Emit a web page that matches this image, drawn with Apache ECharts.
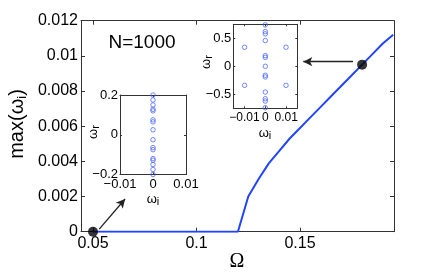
<!DOCTYPE html>
<html><head><meta charset="utf-8">
<script src="https://cdn.jsdelivr.net/npm/echarts@6/dist/echarts.min.js"></script>
<style>html,body{margin:0;padding:0;background:#fff}#c{width:436px;height:273px}</style>
</head><body><div id="c"></div>
<script>
// Main curve: max(omega_i) vs Omega
const omega = [0.05, 0.06, 0.07, 0.08, 0.09, 0.10, 0.11, 0.12, 0.125, 0.13, 0.135, 0.14, 0.145, 0.15, 0.155, 0.16, 0.165, 0.17, 0.175, 0.18, 0.185, 0.19, 0.195];
const maxWi = [0, 0, 0, 0, 0, 0, 0, 0, 0.0020, 0.0030, 0.0039, 0.0046, 0.0053, 0.0059, 0.0065, 0.0071, 0.0077, 0.0083, 0.0089, 0.0095, 0.0101, 0.0107, 0.0112];
// Highlighted points
const dotOmega = [0.05, 0.18];
const dotWi = [0, 0.0095];
// Inset 1 (Omega = 0.05) eigenvalues
const in1Wi = [0, 0, 0, 0, 0, 0, 0, 0, 0, 0, 0, 0, 0, 0, 0, 0];
const in1Wr = [0.2, 0.175, 0.15, 0.128, 0.12, 0.075, 0.065, 0.025, -0.025, -0.065, -0.075, -0.12, -0.128, -0.15, -0.175, -0.2];
// Inset 2 (Omega = 0.18) eigenvalues
const in2Wi = [0, 0, 0, 0, 0, 0, 0, 0, 0, 0, 0, 0, 0, -0.0099, 0.0099, -0.0099, 0.0099];
const in2Wr = [0.74, 0.62, 0.58, 0.46, 0.19, 0.16, 0, -0.16, -0.19, -0.46, -0.58, -0.62, -0.74, 0.34, 0.34, -0.34, -0.34];
// Tick values
const mainXTicks = [0.05, 0.1, 0.15];
const in2XTicks = [-0.01, 0, 0.01];
const in2YTicks = [-0.5, 0, 0.5];

const fmtMinus = v => (v < 0 ? '\u2212' + String(+(-v).toFixed(4)) : String(+v.toFixed(4)));
const AX = '#333';

function axisBase(extra) {
  return Object.assign({
    type: 'value',
    axisLine: { show: true, onZero: false, lineStyle: { color: AX, width: 1 } },
    splitLine: { show: false },
  }, extra);
}

const chart = echarts.init(document.getElementById('c'), null, { renderer: 'canvas' });
const sub = { fontSize: 11, fontFamily: 'Liberation Sans', verticalAlign: 'bottom', lineHeight: 12, color: '#000' };

chart.setOption({
  animation: false,
  backgroundColor: '#fff',
  grid: [
    { left: 81, top: 20.7, right: 42, bottom: 41.3, show: false },
    { left: 120, top: 95, width: 66, height: 79.5, show: true, backgroundColor: '#fff', borderWidth: 0, z: 3 },
    { left: 233.3, top: 24.3, width: 64, height: 84, show: true, backgroundColor: '#fff', borderWidth: 0, z: 3 }
  ],
  xAxis: [
    axisBase({ gridIndex: 0, min: 0.0442, max: 0.1954, position: 'bottom',
      axisTick: { show: true, inside: true, length: 4, customValues: mainXTicks, lineStyle: { color: AX } },
      axisLabel: { show: true, customValues: mainXTicks, margin: 4, fontSize: 16, fontFamily: 'Liberation Sans', color: '#000', formatter: v => String(+v.toFixed(3)) } }),
    axisBase({ gridIndex: 0, min: 0.0442, max: 0.1954, position: 'top',
      axisTick: { show: true, inside: true, length: 4, customValues: mainXTicks, lineStyle: { color: AX } },
      axisLabel: { show: false } }),
    axisBase({ gridIndex: 1, min: -0.01, max: 0.01, interval: 0.01, position: 'bottom', z: 4,
      axisTick: { show: true, inside: true, length: 2, lineStyle: { color: AX } },
      axisLabel: { margin: 3, fontSize: 13, fontFamily: 'Liberation Sans', color: '#000', formatter: fmtMinus } }),
    axisBase({ gridIndex: 1, min: -0.01, max: 0.01, interval: 0.01, position: 'top', z: 4,
      axisTick: { show: true, inside: true, length: 2, lineStyle: { color: AX } },
      axisLabel: { show: false } }),
    axisBase({ gridIndex: 2, min: -0.0153, max: 0.0153, position: 'bottom', z: 4,
      axisTick: { show: true, inside: true, length: 2, customValues: in2XTicks, lineStyle: { color: AX } },
      axisLabel: { customValues: in2XTicks, margin: 3, fontSize: 12, fontFamily: 'Liberation Sans', color: '#000', formatter: fmtMinus } }),
    axisBase({ gridIndex: 2, min: -0.0153, max: 0.0153, position: 'top', z: 4,
      axisTick: { show: true, inside: true, length: 2, customValues: in2XTicks, lineStyle: { color: AX } },
      axisLabel: { show: false } })
  ],
  yAxis: [
    axisBase({ gridIndex: 0, min: 0, max: 0.012, interval: 0.002, position: 'left',
      axisTick: { show: true, inside: true, length: 4, lineStyle: { color: AX } },
      axisLabel: { margin: 3, fontSize: 16, fontFamily: 'Liberation Sans', color: '#000', formatter: v => String(+v.toFixed(4)) } }),
    axisBase({ gridIndex: 0, min: 0, max: 0.012, interval: 0.002, position: 'right',
      axisTick: { show: true, inside: true, length: 4, lineStyle: { color: AX } },
      axisLabel: { show: false } }),
    axisBase({ gridIndex: 1, min: -0.2, max: 0.2, interval: 0.2, position: 'left', z: 4,
      axisTick: { show: true, inside: true, length: 2, lineStyle: { color: AX } },
      axisLabel: { margin: 2, fontSize: 13, fontFamily: 'Liberation Sans', color: '#000', formatter: fmtMinus } }),
    axisBase({ gridIndex: 1, min: -0.2, max: 0.2, interval: 0.2, position: 'right', z: 4,
      axisTick: { show: true, inside: true, length: 2, lineStyle: { color: AX } },
      axisLabel: { show: false } }),
    axisBase({ gridIndex: 2, min: -0.75, max: 0.75, position: 'left', z: 4,
      axisTick: { show: true, inside: true, length: 2, customValues: in2YTicks, lineStyle: { color: AX } },
      axisLabel: { customValues: in2YTicks, margin: 2, fontSize: 13, fontFamily: 'Liberation Sans', color: '#000', formatter: fmtMinus } }),
    axisBase({ gridIndex: 2, min: -0.75, max: 0.75, position: 'right', z: 4,
      axisTick: { show: true, inside: true, length: 2, customValues: in2YTicks, lineStyle: { color: AX } },
      axisLabel: { show: false } })
  ],
  series: [
    {
      type: 'line', xAxisIndex: 0, yAxisIndex: 0, z: 2,
      data: omega.map((o, i) => [o, maxWi[i]]),
      showSymbol: false, smooth: false,
      lineStyle: { color: '#2244ff', width: 2 },
      markLine: {
        silent: true, symbol: ['none', 'arrow'], symbolSize: [7, 9],
        lineStyle: { color: '#222', width: 1.3, type: 'solid' },
        label: { show: false },
        data: [
          [{ coord: [0.053, 0.00015] }, { coord: [0.0655, 0.00186] }],
          [{ coord: [0.1756, 0.00967] }, { coord: [0.1516, 0.00967] }]
        ]
      }
    },
    {
      type: 'scatter', xAxisIndex: 0, yAxisIndex: 0, z: 5, clip: false,
      data: dotOmega.map((o, i) => [o, dotWi[i]]),
      symbolSize: 10, itemStyle: { color: '#000' }
    },
    {
      type: 'scatter', xAxisIndex: 2, yAxisIndex: 2, z: 5,
      data: in1Wi.map((x, i) => [x, in1Wr[i]]),
      symbol: 'circle', symbolSize: 4.5,
      itemStyle: { color: 'rgba(0,0,0,0)', borderColor: '#3d5cff', borderWidth: 0.9 }
    },
    {
      type: 'scatter', xAxisIndex: 4, yAxisIndex: 4, z: 5,
      data: in2Wi.map((x, i) => [x, in2Wr[i]]),
      symbol: 'circle', symbolSize: 4.5,
      itemStyle: { color: 'rgba(0,0,0,0)', borderColor: '#3d5cff', borderWidth: 0.9 }
    }
  ],
  graphic: [
    { type: 'text', x: 142, y: 43, z: 10, style: { text: 'N=1000', fontSize: 19, fontFamily: 'Liberation Sans', fill: '#000', align: 'center', verticalAlign: 'middle' } },
    { type: 'text', x: 237, y: 262, z: 10, style: { text: '\u03A9', fontSize: 20, fontFamily: 'Liberation Serif', fill: '#000', align: 'center', verticalAlign: 'middle' } },
    { type: 'text', x: 17, y: 124, rotation: Math.PI / 2, z: 10, style: { text: 'max(\u03C9{s|i})', fontSize: 20, fontFamily: 'Liberation Sans', fill: '#000', align: 'center', verticalAlign: 'middle', lineHeight: 24, rich: { s: Object.assign({}, sub, { fontSize: 13, lineHeight: 14 }) } } },
    { type: 'text', x: 153, y: 199, z: 10, style: { text: '\u03C9{s|i}', fontSize: 13, fontFamily: 'Liberation Sans', fill: '#000', align: 'center', verticalAlign: 'middle', lineHeight: 16, rich: { s: sub } } },
    { type: 'text', x: 93, y: 132, rotation: Math.PI / 2, z: 10, style: { text: '\u03C9{s|r}', fontSize: 13, fontFamily: 'Liberation Sans', fill: '#000', align: 'center', verticalAlign: 'middle', lineHeight: 16, rich: { s: sub } } },
    { type: 'text', x: 265, y: 133, z: 10, style: { text: '\u03C9{s|i}', fontSize: 13, fontFamily: 'Liberation Sans', fill: '#000', align: 'center', verticalAlign: 'middle', lineHeight: 16, rich: { s: sub } } },
    { type: 'text', x: 206, y: 62, rotation: Math.PI / 2, z: 10, style: { text: '\u03C9{s|r}', fontSize: 13, fontFamily: 'Liberation Sans', fill: '#000', align: 'center', verticalAlign: 'middle', lineHeight: 16, rich: { s: sub } } }
  ]
});
</script></body></html>
